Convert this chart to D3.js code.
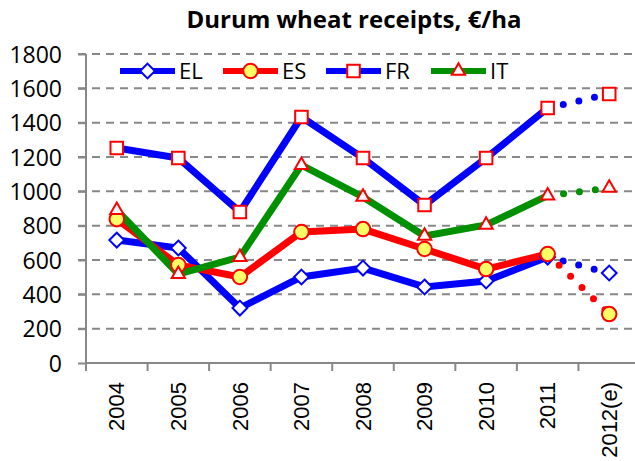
<!DOCTYPE html>
<html>
<head>
<meta charset="UTF-8">
<script src="https://cdn.jsdelivr.net/npm/d3@7"></script>
<style>
body { margin: 0; background: #fff; }
text { font-family: "Open Sans", "Noto Sans", sans-serif; }
</style>
</head>
<body>
<div id="chart"></div>
<script>

// chart data
const years = ["2004", "2005", "2006", "2007", "2008", "2009", "2010", "2011", "2012(e)"];
const yTicks = [0, 200, 400, 600, 800, 1000, 1200, 1400, 1600, 1800];
const EL = [716, 670, 320, 501, 553, 443, 478, 617, 524];
const ES = [838, 571, 501, 763, 780, 664, 547, 635, 285];
const FR = [1252, 1194, 880, 1433, 1194, 920, 1194, 1485, 1567];
const IT = [890, 518, 617, 1153, 967, 740, 804, 975, 1020];

const W = 635, H = 461;
const margin = {top: 54, right: -5, bottom: 98, left: 86};
const width = W - margin.left - margin.right,
      height = H - margin.top - margin.bottom;

const svg = d3.select("#chart").append("svg")
    .attr("width", W)
    .attr("height", H);

const g = svg.append("g")
    .attr("transform", "translate(" + margin.left + "," + margin.top + ")");

const x = d3.scaleBand().domain(years).range([0, width]);
const y = d3.scaleLinear().domain([0, 1800]).range([height, 0]);

// gridlines
g.selectAll(".grid")
    .data(yTicks.slice(1))
  .enter().append("line")
    .attr("x1", -8).attr("x2", width)
    .attr("y1", d => y(d)).attr("y2", d => y(d))
    .attr("stroke", "#888")
    .attr("stroke-width", 2)
    .attr("stroke-dasharray", "8,6");

// y axis
const yAxis = g.append("g")
    .call(d3.axisLeft(y).tickValues(yTicks).tickFormat(d3.format("d")).tickSize(8).tickPadding(16));
yAxis.selectAll("text").style("font-size", "23px").attr("fill", "#000").attr("dy", "0.35em");
yAxis.selectAll("line").attr("stroke", "#888").attr("stroke-width", 2);
yAxis.select(".domain").attr("stroke", "#888").attr("stroke-width", 2).attr("d", "M0," + height + "V0");

// x axis
const xAxis = g.append("g")
    .attr("transform", "translate(0," + height + ")")
    .call(d3.axisBottom(x).tickSize(0));
xAxis.select(".domain").attr("stroke", "#888").attr("stroke-width", 2).attr("d", "M0,0H" + width);
xAxis.selectAll(".tick text")
    .style("font-size", "22px")
    .style("font-family", "'Liberation Sans', Arial, sans-serif")
    .attr("fill", "#000")
    .style("text-anchor", "end")
    .attr("transform", "rotate(-90)")
    .attr("x", -19)
    .attr("y", 0)
    .attr("dy", "0.35em");
// tick marks between categories
g.selectAll(".xtick")
    .data(years)
  .enter().append("line")
    .attr("x1", d => x(d)).attr("x2", d => x(d))
    .attr("y1", height).attr("y2", height + 8)
    .attr("stroke", "#888").attr("stroke-width", 2);

const cx = i => x(years[i]) + x.bandwidth() / 2;

const series = [
  {name: "EL", values: EL, color: "#0000ff", marker: "diamond"},
  {name: "ES", values: ES, color: "#ff0000", marker: "circle"},
  {name: "FR", values: FR, color: "#0000ff", marker: "square"},
  {name: "IT", values: IT, color: "#009000", marker: "triangle"}
];

const symbolOf = {
  diamond: d3.symbol().type(d3.symbolDiamond2).size(140),
  circle: d3.symbol().type(d3.symbolCircle).size(165),
  square: d3.symbol().type(d3.symbolSquare2).size(200),
  triangle: d3.symbol().type(d3.symbolTriangle2).size(125)
};

function drawMarker(sel, s) {
  const isCircle = s.marker === "circle";
  sel.attr("d", symbolOf[s.marker])
    .attr("fill", isCircle ? "#ffff66" : "#fff")
    .attr("stroke", s.marker === "diamond" ? "#0000ff" : "#ff0000")
    .attr("stroke-width", 2);
}

const line = d3.line().x(d => cx(d.i)).y(d => y(d.v));
const n = years.length;

series.forEach(s => {
  const pts = s.values.map((v, i) => ({i: i, v: v}));
  g.append("path")
    .attr("d", line(pts.slice(0, n - 1)))
    .attr("fill", "none")
    .attr("stroke", s.color)
    .attr("stroke-width", 7)
    .attr("stroke-linejoin", "miter");
  // estimated segment (2011 -> 2012), round dots
  g.append("path")
    .attr("d", line(pts.slice(n - 2)))
    .attr("fill", "none")
    .attr("stroke", s.color)
    .attr("stroke-width", 7)
    .attr("stroke-linecap", "round")
    .attr("stroke-dasharray", "0,16");
});

series.forEach(s => {
  g.selectAll(null)
    .data(s.values)
  .enter().append("path")
    .attr("transform", (d, i) => "translate(" + cx(i) + "," + y(d) + ")")
    .call(sel => drawMarker(sel, s));
});

// legend
const legendX = [120, 223, 326, 431];
const legend = svg.append("g");
series.forEach((s, i) => {
  const lg = legend.append("g").attr("transform", "translate(" + legendX[i] + ",71)");
  lg.append("line")
    .attr("x1", 0).attr("x2", 55)
    .attr("stroke", s.color).attr("stroke-width", 6);
  lg.append("path")
    .attr("transform", "translate(27.5,0)")
    .call(sel => drawMarker(sel, s));
  lg.append("text")
    .attr("x", 59).attr("y", 0).attr("dy", "0.35em")
    .style("font-size", "22px")
    .text(s.name);
});

// title
svg.append("text")
    .attr("x", 354).attr("y", 28)
    .attr("text-anchor", "middle")
    .style("font-size", "24px")
    .style("font-weight", "bold")
    .text("Durum wheat receipts, €/ha");

</script>
</body>
</html>
